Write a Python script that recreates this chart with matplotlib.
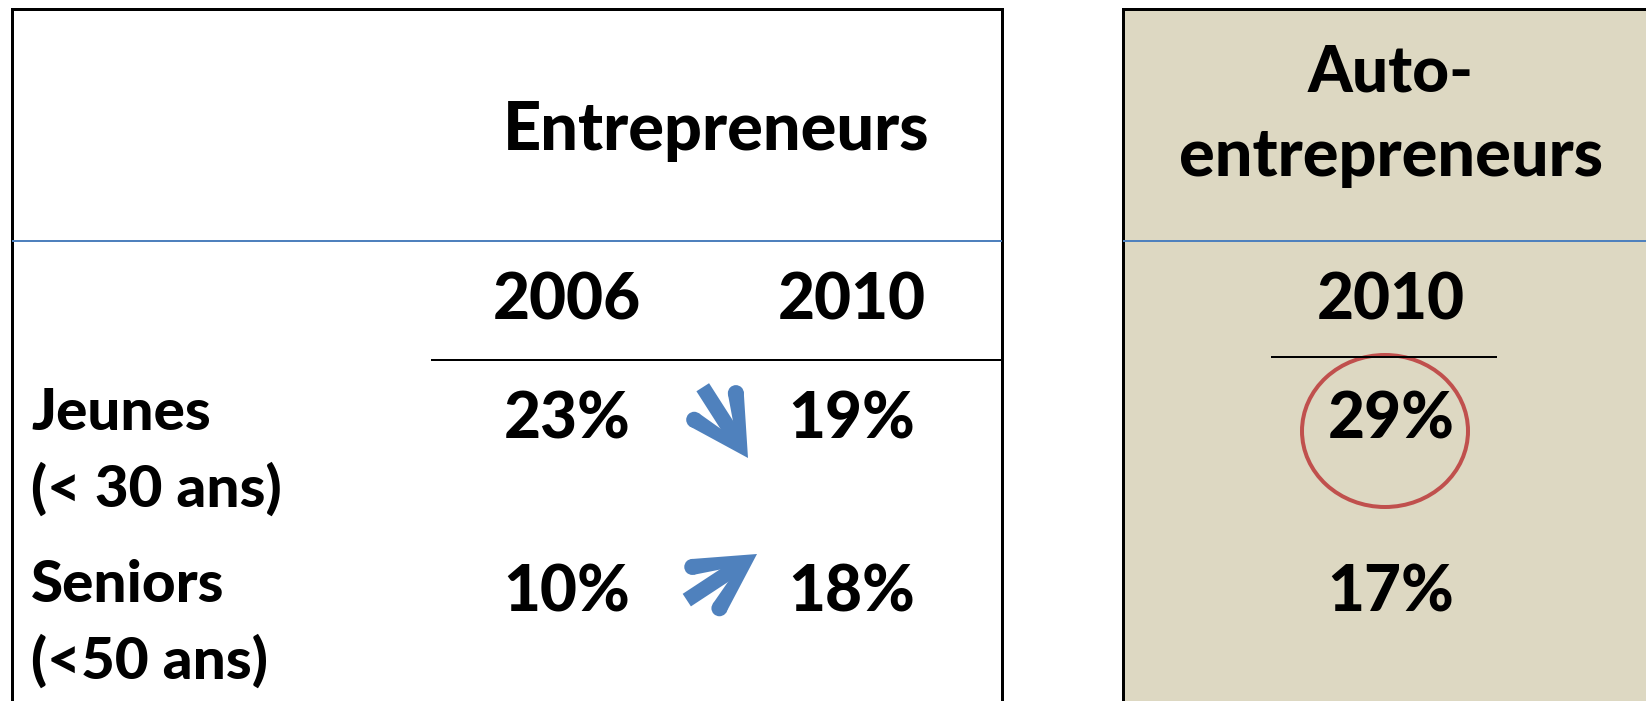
import matplotlib
matplotlib.use("Agg")
import numpy as np
from matplotlib import pyplot as plt
from matplotlib.patches import Rectangle, Ellipse, Polygon, Circle

# data
row_labels = ["Jeunes\n(< 30 ans)", "Seniors\n(<50 ans)"]
years_ent = ["2006", "2010"]
year_auto = "2010"
ent_2006 = [23, 10]
ent_2010 = [19, 18]
auto_2010 = [29, 17]
highlight_row = 0  # circled value in the auto-entrepreneur column

W, H = 1646, 701
fig = plt.figure(figsize=(W / 100, H / 100), dpi=100)
ax = fig.add_axes([0, 0, 1, 1])
ax.set_xlim(0, W)
ax.set_ylim(H, 0)
ax.axis("off")

plt.rcParams["font.family"] = ["Lato", "DejaVu Sans"]
black = "black"
blue = "#4F81BD"
tan = "#DDD8C2"
red = "#C0504D"
px = 0.72  # points per pixel
wt = 900


def rot(v, deg):
    r = np.radians(deg)
    return np.array([v[0] * np.cos(r) - v[1] * np.sin(r),
                     v[0] * np.sin(r) + v[1] * np.cos(r)])


def arrow(tip, back_dir, t=16, theta=22, L=66, shaft_len=84):
    # back_dir: angle (deg) from tip towards the tail, in pixel coords
    T = np.array(tip, float)
    b = np.array([np.cos(np.radians(back_dir)), np.sin(np.radians(back_dir))])
    pts_out, pts_in, caps = [], [], []
    for s in (1, -1):
        a = rot(b, s * theta)
        n_in = b - np.dot(b, a) * a
        n_in /= np.linalg.norm(n_in)
        C = T + a * L
        caps.append(C)
        pts_out.append(C - n_in * t / 2)
        pts_in.append(C + n_in * t / 2)
    # inner edge meets the axis
    a1 = rot(b, theta)
    p = pts_in[0]
    M = np.column_stack([b, -a1])
    s_, _ = np.linalg.solve(M, p - T)
    J = T + b * s_
    ax.add_patch(Polygon([T, pts_out[0], pts_in[0], J, pts_in[1], pts_out[1]],
                         closed=True, facecolor=blue, edgecolor="none"))
    for cc in caps:
        ax.add_patch(Circle(cc, t / 2, facecolor=blue, edgecolor="none"))
    tail = T + b * shaft_len
    start = T + b * 20
    ax.plot([start[0], tail[0]], [start[1], tail[1]], color=blue,
            lw=15 * px, solid_capstyle="butt")


# right panel background + borders
ax.add_patch(Rectangle((1123, 9), W - 1123, H, facecolor=tan, edgecolor="none"))
ax.plot([12, 12], [9, H], color=black, lw=3 * px)
ax.plot([12, 1002], [9, 9], color=black, lw=3 * px)
ax.plot([1002, 1002], [9, H], color=black, lw=3 * px)
ax.plot([1123, 1123], [9, H], color=black, lw=3 * px)
ax.plot([1123, W], [9, 9], color=black, lw=3 * px)

# blue separators
ax.plot([13, 1001], [241, 241], color=blue, lw=2 * px)
ax.plot([1124, W], [241, 241], color=blue, lw=2 * px)

# header lines under years
ax.plot([432, 1002], [360, 360], color=black, lw=2 * px)
ax.plot([1272, 1496], [357, 357], color=black, lw=2 * px)

big = 46
head = 48
ax.text(716, 131, "Entrepreneurs", ha="center", va="center", fontsize=head, fontweight=wt)
ax.text(1391, 73, "Auto-", ha="center", va="center", fontsize=big, fontweight=wt)
ax.text(1391, 157, "entrepreneurs", ha="center", va="center", fontsize=head, fontweight=wt)

col_x = [567, 852]
auto_x = 1391
for x, yr in zip(col_x, years_ent):
    ax.text(x, 301, yr, ha="center", va="center", fontsize=big, fontweight=wt)
ax.text(auto_x, 301, year_auto, ha="center", va="center", fontsize=big, fontweight=wt)

row_y = [420, 593]
label_y = [(413, 489), (585, 661)]
arrows = {True: ((748, 458), -122.6), False: ((757, 554), 146.7)}
for i, lab in enumerate(row_labels):
    l1, l2 = lab.split("\n")
    ax.text(31, label_y[i][0], l1, ha="left", va="center", fontsize=42, fontweight=wt)
    ax.text(31, label_y[i][1], l2, ha="left", va="center", fontsize=42, fontweight=wt)
    ax.text(col_x[0], row_y[i], f"{ent_2006[i]}%", ha="center", va="center", fontsize=big, fontweight=wt)
    ax.text(col_x[1], row_y[i], f"{ent_2010[i]}%", ha="center", va="center", fontsize=big, fontweight=wt)
    ax.text(auto_x, row_y[i], f"{auto_2010[i]}%", ha="center", va="center", fontsize=big, fontweight=wt)
    tip, back = arrows[ent_2010[i] < ent_2006[i]]
    arrow(tip, back)

# red circle around the highlighted value
ax.add_patch(Ellipse((1385, 431), 166, 152, facecolor="none", edgecolor=red, lw=4 * px))

fig.savefig("out.png", dpi=100)
